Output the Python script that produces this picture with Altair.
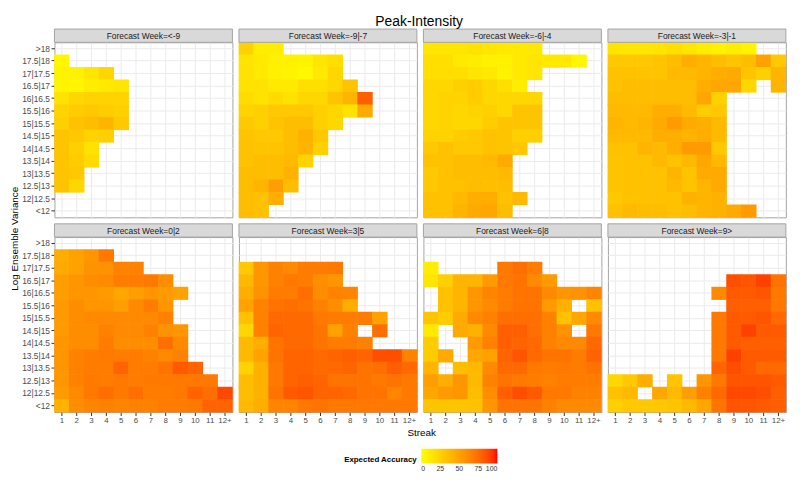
import altair as alt
import pandas as pd

N = None
FONT = "Liberation Sans"
BORDER = "#A3A3A3"

streak = ["1", "2", "3", "4", "5", "6", "7", "8", "9", "10", "11", "12+"]
variance = [">18", "17.5|18", "17|17.5", "16.5|17", "16|16.5", "15.5|16", "15|15.5",
            "14.5|15", "14|14.5", "13.5|14", "13|13.5", "12.5|13", "12|12.5", "<12"]
weeks = ["<-9", "-9|-7", "-6|-4", "-3|-1", "0|2", "3|5", "6|8", "9>"]

# rows listed top (>18) to bottom (<12); columns streak 1..12+
week_lt_m9 = [
    [],
    [5],
    [6, 8, 14, 22],
    [6, 5, 10, 12, 14],
    [16, 22, 24, 24, 24],
    [24, 28, 30, 28, 26],
    [26, 34, 36, 40, 30],
    [32, 30, 24, 26],
    [32, 26, 16],
    [32, 28, 20],
    [32, 30],
    [32, 22],
    [],
    [],
]
week_m9_m7 = [
    [25, 10, 10],
    [15, 12, 8, 8, 6, 14, 18],
    [16, 12, 8, 6, 4, 12, 22],
    [16, 16, 12, 12, 18, 18, 22, 32],
    [20, 16, 20, 16, 22, 22, 32, 40, 80],
    [24, 26, 30, 30, 30, 26, 22, 16, 46],
    [30, 26, 32, 36, 36, 26, 22],
    [32, 30, 30, 36, 42, 30],
    [34, 32, 32, 36, 40, 26],
    [34, 36, 36, 38, 24],
    [36, 36, 36, 42],
    [36, 40, 52, 36],
    [36, 34, 44],
    [36, 34],
]
week_m6_m4 = [
    [14, 14, 14, 16, 14, 12, 12, 12],
    [18, 18, 12, 10, 8, 8, 12, 14, 12, 12, 5],
    [18, 18, 18, 14, 12, 6, 12, 14],
    [22, 22, 26, 28, 22, 18, 10],
    [22, 24, 24, 28, 22, 22, 22, 22],
    [22, 24, 22, 24, 26, 22, 32, 32],
    [22, 24, 22, 22, 28, 32, 32, 32],
    [24, 24, 28, 30, 34, 32, 26, 26],
    [30, 34, 30, 30, 34, 32, 30],
    [34, 34, 36, 36, 38, 46],
    [30, 34, 36, 36, 36, 38],
    [30, 34, 34, 36, 34, 36],
    [34, 34, 38, 44, 44, 34, 38],
    [34, 34, 40, 46, 48, 36],
]
week_m3_m1 = [
    [15, 14, 14, 15, 18, 14, 10, 8, 10, 6],
    [30, 30, 30, 32, 36, 44, 40, 36, 32, 36, 50, 30],
    [34, 34, 32, 32, 38, 38, 40, 44, 46, 32, 26, 40],
    [34, 36, 36, 36, 36, 36, 44, 48, 48, 22, N, 40],
    [36, 36, 36, 36, 36, 36, 48, 26],
    [38, 38, 38, 44, 44, 38, 28, 30],
    [40, 38, 40, 46, 54, 46, 44, 38],
    [38, 38, 38, 44, 44, 40, 44, 38],
    [34, 34, 40, 38, 44, 54, 54, 30],
    [32, 34, 34, 38, 34, 38, 48, 38],
    [32, 34, 34, 34, 40, 32, 46, 46],
    [32, 34, 34, 34, 38, 32, 40, 46],
    [30, 34, 34, 34, 34, 42, 40, 42],
    [34, 38, 36, 36, 34, 36, 40, 42, 46, 54],
]
week_0_2 = [
    [],
    [44, 50, 56, 70],
    [46, 50, 58, 58, 66, 66],
    [52, 56, 60, 62, 68, 68, 70, 60],
    [52, 56, 56, 54, 48, 52, 56, 54, 50],
    [54, 60, 56, 56, 52, 62, 68, 56],
    [54, 60, 62, 62, 62, 62, 62, 66],
    [54, 60, 60, 66, 62, 62, 66, 58, 56],
    [56, 60, 60, 68, 60, 60, 60, 74, 62],
    [56, 66, 68, 70, 68, 68, 66, 62, 66],
    [56, 66, 68, 68, 78, 68, 68, 72, 82, 78],
    [56, 66, 70, 68, 70, 68, 70, 70, 70, 70, 70],
    [54, 62, 70, 74, 70, 74, 68, 68, 70, 78, 74, 88],
    [42, 60, 64, 66, 64, 66, 66, 68, 68, 70, 78, 78],
]
week_3_5 = [
    [],
    [],
    [30, 56, 66, 62, 68, 68, 70],
    [38, 56, 66, 70, 68, 60, 56],
    [44, 58, 68, 68, 74, 60, 66, 64],
    [50, 66, 72, 74, 72, 66, 60, 44],
    [34, 66, 76, 76, 76, 70, 68, 68, 68, 50],
    [22, 66, 78, 76, 76, 72, 50, 66, N, 74],
    [38, 44, 72, 76, 76, 72, 68, 68, 66],
    [38, 50, 72, 78, 78, 76, 78, 80, 78, 86, 86, 66],
    [24, 42, 70, 78, 78, 76, 76, 78, 72, 74, 80, 76],
    [36, 42, 70, 78, 80, 78, 72, 72, 72, 70, 72, 70],
    [36, 42, 72, 82, 84, 78, 78, 76, 72, 72, 64, 70],
    [38, 44, 64, 64, 70, 72, 70, 70, 70, 70, 70, 70],
]
week_6_8 = [
    [],
    [],
    [10, N, N, N, N, 70, 74, 68],
    [14, 26, 40, 40, 54, 70, 72, 62, 54],
    [N, 34, 40, 56, 64, 68, 72, 72, 62, 56, 58, 64],
    [N, 34, 40, 56, 62, 68, 72, 72, 54, 42, N, 34],
    [32, 28, 46, 62, 66, 74, 74, 74, 66, 34, 48, 62],
    [12, N, 46, 42, 62, 80, 80, 74, 66, 58, N, 70],
    [28, N, N, 54, 66, 80, 78, 76, 66, 62, 62, 76],
    [28, 46, N, 48, 50, 78, 84, 76, 72, 72, 68, 78],
    [40, N, 36, 38, 62, 76, 76, 70, 68, 70, 68, 72],
    [52, 44, 56, 38, 66, 72, 70, 68, 66, 68, 68, 68],
    [48, 54, 56, 36, 60, 80, 86, 82, 70, 70, 66, 66],
    [32, 32, 32, 34, 56, 72, 72, 72, 66, 62, 62, 62],
]
week_9_plus = [
    [],
    [],
    [],
    [N, N, N, N, N, N, N, N, 86, 84, 90, 72],
    [N, N, N, N, N, N, N, 62, 82, 82, 84, 70],
    [N, N, N, N, N, N, N, N, 80, 80, 80, 70],
    [N, N, N, N, N, N, N, 70, 82, 82, 84, 76],
    [N, N, N, N, N, N, N, 70, 82, 90, 82, 82],
    [N, N, N, N, N, N, N, 70, 82, 80, 80, 80],
    [N, N, N, N, N, N, N, 70, 90, 82, 82, 82],
    [N, N, N, N, N, N, N, 78, 86, 82, 76, 76],
    [22, 30, 44, N, 32, N, 56, 70, 84, 84, 84, 82],
    [34, 38, N, 48, 38, 52, 66, 76, 88, 88, 86, 80],
    [26, 30, 30, 30, 32, 38, 48, 72, 84, 84, 82, 80],
]

panels = [week_lt_m9, week_m9_m7, week_m6_m4, week_m3_m1,
          week_0_2, week_3_5, week_6_8, week_9_plus]

records = []
for w, rows in zip(weeks, panels):
    for v, row in zip(variance, rows):
        for s, val in zip(streak, row):
            if val is not None:
                records.append({"week": w, "variance": v, "streak": s, "acc": val})
df = pd.DataFrame(records)
strip_df = pd.DataFrame({"week": weeks, "label": ["Forecast Week=" + w for w in weeks]})

PW, PH, SH = 180, 177, 13.4

color_scale = alt.Scale(domain=[0, 100], range=["#FFFF00", "#FF0000"], interpolate="lab")
legend = alt.Legend(
    title="Expected Accuracy", orient="none", legendX=333, legendY=411,
    direction="horizontal", titleOrient="left", titleAnchor="end",
    gradientLength=77, gradientThickness=15, values=[0, 25, 50, 75, 100],
    labelFontSize=7, titleFontSize=8, titleFontWeight="bold", titleColor="#000000",
    labelColor="#333333", titleFont=FONT, labelFont=FONT, titlePadding=4,
    gradientStrokeWidth=0,
)


def make_panel(i, w):
    left = i % 4 == 0
    bottom = i >= 4
    common = dict(domain=False, grid=True, bandPosition=0.5, gridColor="#EBEBEB",
                  labelFont=FONT, labelColor="#4D4D4D", title=None, zindex=0,
                  tickColor="#333333", tickSize=3.5, labelPadding=1.5)
    if bottom:
        x_axis = alt.Axis(labels=True, ticks=True, labelAngle=0, labelFontSize=8, **common)
    else:
        x_axis = alt.Axis(labels=False, ticks=False, **common)
    if left:
        y_axis = alt.Axis(labels=True, ticks=True, labelFontSize=8.5, **common)
    else:
        y_axis = alt.Axis(labels=False, ticks=False, **common)

    heat = alt.Chart(df).transform_filter(alt.datum.week == w).mark_rect(
        width=alt.RelativeBandSize(band=1.04), height=alt.RelativeBandSize(band=1.05)
    ).encode(
        x=alt.X("streak:N", scale=alt.Scale(domain=streak, paddingInner=0, paddingOuter=0),
                axis=x_axis),
        y=alt.Y("variance:N", scale=alt.Scale(domain=variance, paddingInner=0, paddingOuter=0),
                axis=y_axis),
        color=alt.Color("acc:Q", scale=color_scale, legend=legend),
    )
    base = alt.Chart(strip_df).transform_filter(alt.datum.week == w)
    strip_rect = base.mark_rect(fill="#D9D9D9", stroke=BORDER, strokeWidth=1).encode(
        x=alt.value(0), x2=alt.value(PW), y=alt.value(-SH), y2=alt.value(0))
    strip_text = base.mark_text(font=FONT, fontSize=8.5, color="#1A1A1A",
                                align="center", baseline="middle").encode(
        x=alt.value(PW / 2), y=alt.value(-SH / 2 + 0.5), text="label:N")
    return alt.layer(heat, strip_rect, strip_text).properties(width=PW, height=PH)


charts = [make_panel(i, w) for i, w in enumerate(weeks)]
row1 = alt.hconcat(*charts[:4], spacing=4.6)
row2 = alt.hconcat(*charts[4:], spacing=4.6)
body = alt.vconcat(row1, row2, spacing=4)

ytitle = alt.Chart(pd.DataFrame({"t": ["Log Ensemble Variance"]})).mark_text(
    angle=270, font=FONT, fontSize=10, color="#000000", align="center", baseline="middle"
).encode(x=alt.value(0.5), y=alt.value(198.7), text="t:N").properties(
    width=4, height=384, view=alt.ViewBackground(stroke="transparent"))

xtitle = alt.Chart(pd.DataFrame({"t": ["Streak"]})).mark_text(
    font=FONT, fontSize=10, color="#000000", align="center", baseline="middle"
).encode(x=alt.value(411.5), y=alt.value(6), text="t:N").properties(
    width=770, height=12, view=alt.ViewBackground(stroke="transparent"))

chart = alt.vconcat(
    alt.hconcat(ytitle, body, spacing=0),
    xtitle,
    spacing=0,
).properties(
    title=alt.TitleParams("Peak-Intensity", fontSize=14, font=FONT, fontWeight="normal",
                          anchor="middle", color="#000000", dx=21, offset=-1),
    padding={"left": 2, "top": 4, "right": 5, "bottom": 5},
).configure_view(stroke=BORDER, strokeWidth=1)

chart.save("out.html", embed_options={"renderer": "svg", "actions": False})
